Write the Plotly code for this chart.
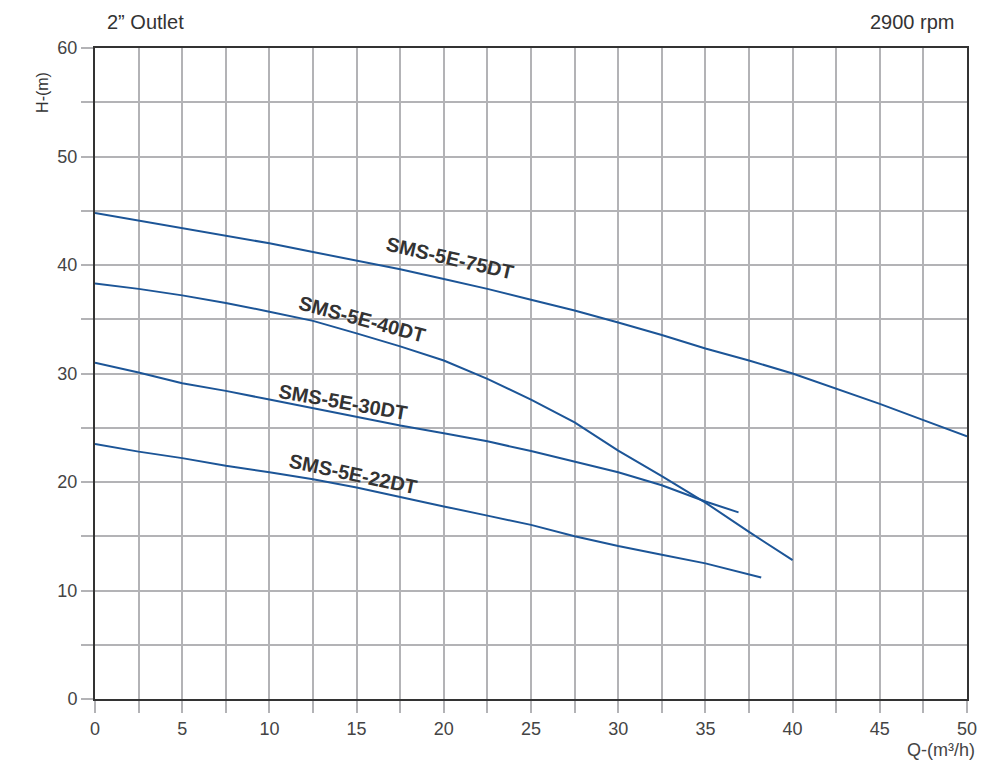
import plotly.graph_objects as go

# ---- data ----
q75 = [0, 2.5, 5, 7.5, 10, 12.5, 15, 17.5, 20, 22.5, 25, 27.5, 30, 32.5, 35, 37.5, 40, 42.5, 45, 47.5, 50]
h75 = [44.8, 44.1, 43.4, 42.7, 42.0, 41.2, 40.4, 39.6, 38.7, 37.8, 36.8, 35.8, 34.7, 33.55, 32.3, 31.2, 30.0, 28.6, 27.2, 25.7, 24.2]

q40 = [0, 2.5, 5, 7.5, 10, 12.5, 15, 17.5, 20, 22.5, 25, 27.5, 30, 32.5, 35, 37.5, 40]
h40 = [38.3, 37.8, 37.2, 36.5, 35.7, 34.85, 33.7, 32.5, 31.2, 29.5, 27.6, 25.5, 22.9, 20.55, 18.1, 15.4, 12.8]

q30 = [0, 2.5, 5, 7.5, 10, 12.5, 15, 17.5, 20, 22.5, 25, 27.5, 30, 32.5, 35, 36.9]
h30 = [31.0, 30.1, 29.1, 28.4, 27.6, 26.8, 26.0, 25.2, 24.5, 23.75, 22.85, 21.9, 20.9, 19.7, 18.2, 17.2]

q22 = [0, 2.5, 5, 7.5, 10, 12.5, 15, 17.5, 20, 22.5, 25, 27.5, 30, 32.5, 35, 38.2]
h22 = [23.5, 22.8, 22.2, 21.5, 20.9, 20.25, 19.5, 18.6, 17.75, 16.9, 16.05, 15.0, 14.1, 13.3, 12.5, 11.2]

series_names = ["SMS-5E-75DT", "SMS-5E-40DT", "SMS-5E-30DT", "SMS-5E-22DT"]
label_q = [20.35, 15.3, 14.2, 14.8]
label_h = [40.65, 35.0, 27.4, 20.7]
label_angle = [13, 15, 10, 12]

x_tickvals = [i * 2.5 for i in range(21)]
x_ticktext = [str(int(v)) if v % 5 == 0 else "" for v in x_tickvals]
y_tickvals = [i * 5 for i in range(13)]
y_ticktext = [str(v) if v % 10 == 0 else "" for v in y_tickvals]

line_color = "#1c5597"
grid_color = "#b3b3b6"
font_family = "Liberation Sans, Arial, sans-serif"

fig = go.Figure()
for q, h, name in [(q75, h75, series_names[0]), (q40, h40, series_names[1]),
                   (q30, h30, series_names[2]), (q22, h22, series_names[3])]:
    fig.add_trace(go.Scatter(x=q, y=h, mode="lines", name=name,
                             line=dict(color=line_color, width=2), showlegend=False,
                             hoverinfo="skip"))

for name, qx, hy, ang in zip(series_names, label_q, label_h, label_angle):
    fig.add_annotation(x=qx, y=hy, xref="x", yref="y", text="<b>" + name + "</b>", showarrow=False,
                       textangle=ang, font=dict(family=font_family, size=20, color="#333333"))

fig.add_annotation(x=0.0115, y=1.0, xref="paper", yref="paper", yshift=26, text="2” Outlet",
                   showarrow=False, xanchor="left", yanchor="middle",
                   font=dict(family=font_family, size=20, color="#333333"))
fig.add_annotation(x=0.9885, y=1.0, xref="paper", yref="paper", yshift=26, text="2900 rpm",
                   showarrow=False, xanchor="right", yanchor="middle",
                   font=dict(family=font_family, size=20, color="#333333"))
fig.add_annotation(x=0, y=0.931, xref="paper", yref="paper", xshift=-52, text="H-(m)",
                   showarrow=False, textangle=-90, xanchor="center", yanchor="middle",
                   font=dict(family=font_family, size=16, color="#333333"))
fig.add_annotation(x=1.0, y=0, xref="paper", yref="paper", xshift=10, yshift=-51, text="Q-(m³/h)",
                   showarrow=False, xanchor="right", yanchor="middle",
                   font=dict(family=font_family, size=18, color="#444444"))

fig.update_layout(
    width=984, height=755,
    margin=dict(l=87, r=25, t=40, b=64),
    plot_bgcolor="white", paper_bgcolor="white",
    font=dict(family=font_family, size=18, color="#444444"),
    xaxis=dict(range=[0, 50], tickvals=x_tickvals, ticktext=x_ticktext,
               showgrid=True, gridcolor=grid_color, gridwidth=1.6,
               ticks="outside", ticklen=12, tickcolor=grid_color, tickwidth=1.6,
               showline=True, linecolor="#333333", linewidth=2, mirror=True,
               zeroline=False, tickfont=dict(size=18, color="#444444")),
    yaxis=dict(range=[0, 60], tickvals=y_tickvals, ticktext=y_ticktext,
               showgrid=True, gridcolor=grid_color, gridwidth=1.6,
               ticks="outside", ticklen=12, tickcolor=grid_color, tickwidth=1.6,
               showline=True, linecolor="#333333", linewidth=2, mirror=True,
               zeroline=False, tickfont=dict(size=18, color="#444444")),
)

fig.write_html("out.html")
